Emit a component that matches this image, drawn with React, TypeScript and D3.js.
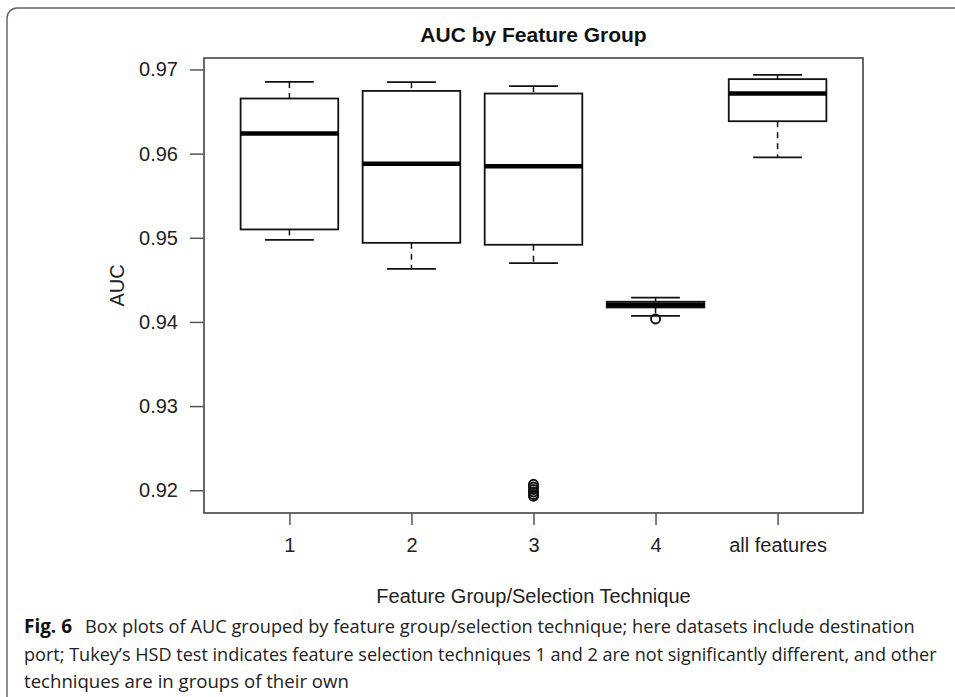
import { useEffect, useRef } from 'react';
import * as d3 from 'd3';

// values
const groups = ['1', '2', '3', '4', 'all features'];
const whiskerHigh = [0.96852, 0.96849, 0.96801, 0.94290, 0.96936];
const upperQuartile = [0.96655, 0.96745, 0.96714, 0.94240, 0.96885];
const medians = [0.96238, 0.95881, 0.95849, 0.94205, 0.96714];
const lowerQuartile = [0.95099, 0.94940, 0.94917, 0.94172, 0.96385];
const whiskerLow = [0.94976, 0.94631, 0.94698, 0.94071, 0.95956];
const outlierGroup = [3, 3, 3, 3, 3, 3, 4];
const outlierValues = [0.9207, 0.9204, 0.9201, 0.9198, 0.9195, 0.9193, 0.94036];
const yTicks = [0.92, 0.93, 0.94, 0.95, 0.96, 0.97];

const captionLines = [
  'Box plots of AUC grouped by feature group/selection technique; here datasets include destination',
  'port; Tukey\u2019s HSD test indicates feature selection techniques 1 and 2 are not significantly different, and other',
  'techniques are in groups of their own',
];

const W = 955;
const H = 697;

export default function App() {
  const ref = useRef<SVGSVGElement>(null);

  useEffect(() => {
    const svg = d3.select(ref.current);
    svg.selectAll('*').remove();

    const left = 204, right = 863, top = 58, bottom = 513;
    const font = '"Liberation Sans", Arial, sans-serif';

    // R style limits: data range plus 4%
    const all = [...whiskerHigh, ...whiskerLow, ...outlierValues];
    const lo = d3.min(all)!, hi = d3.max(all)!;
    const pad = (hi - lo) * 0.04;
    const y = d3.scaleLinear().domain([lo - pad, hi + pad]).range([bottom, top]);
    const x = d3.scaleLinear().domain([0.3, groups.length + 0.7]).range([left, right]);
    const unit = x(2) - x(1);
    const boxW = unit * 0.8;

    // outer figure frame
    svg.append('rect')
      .attr('x', 7).attr('y', 8)
      .attr('width', 1000).attr('height', 760)
      .attr('rx', 10)
      .attr('fill', 'none')
      .attr('stroke', '#666')
      .attr('stroke-width', 1.5);

    // title
    svg.append('text')
      .attr('x', (left + right) / 2).attr('y', 42)
      .attr('text-anchor', 'middle')
      .attr('font-family', font)
      .attr('font-weight', 'bold')
      .attr('font-size', 21)
      .attr('fill', '#111')
      .text('AUC by Feature Group');

    const g = svg.append('g');

    groups.forEach((name, i) => {
      const cx = x(i + 1);
      // whiskers (dashed)
      g.append('line')
        .attr('x1', cx).attr('x2', cx)
        .attr('y1', y(whiskerHigh[i])).attr('y2', y(upperQuartile[i]))
        .attr('stroke', '#111').attr('stroke-width', 1.5)
        .attr('stroke-dasharray', '6,5');
      g.append('line')
        .attr('x1', cx).attr('x2', cx)
        .attr('y1', y(lowerQuartile[i])).attr('y2', y(whiskerLow[i]))
        .attr('stroke', '#111').attr('stroke-width', 1.5)
        .attr('stroke-dasharray', '6,5');
      // staples
      [whiskerHigh[i], whiskerLow[i]].forEach(v => {
        g.append('line')
          .attr('x1', cx - boxW / 4).attr('x2', cx + boxW / 4)
          .attr('y1', y(v)).attr('y2', y(v))
          .attr('stroke', '#111').attr('stroke-width', 1.8);
      });
      // box
      g.append('rect')
        .attr('x', cx - boxW / 2)
        .attr('y', y(upperQuartile[i]))
        .attr('width', boxW)
        .attr('height', y(lowerQuartile[i]) - y(upperQuartile[i]))
        .attr('fill', 'white')
        .attr('stroke', '#111')
        .attr('stroke-width', 1.8);
      // median
      g.append('line')
        .attr('x1', cx - boxW / 2).attr('x2', cx + boxW / 2)
        .attr('y1', y(medians[i])).attr('y2', y(medians[i]))
        .attr('stroke', '#000').attr('stroke-width', 4.5);
    });

    // outliers
    g.selectAll('circle.out')
      .data(outlierValues)
      .join('circle')
      .attr('class', 'out')
      .attr('cx', (d, i) => x(outlierGroup[i]))
      .attr('cy', d => y(d))
      .attr('r', 4.5)
      .attr('fill', 'none')
      .attr('stroke', '#111')
      .attr('stroke-width', 2);

    // plot frame
    svg.append('rect')
      .attr('x', left).attr('y', top)
      .attr('width', right - left).attr('height', bottom - top)
      .attr('fill', 'none')
      .attr('stroke', '#444')
      .attr('stroke-width', 1.6);

    // y axis
    const yAxis = svg.append('g')
      .attr('transform', `translate(${left},0)`)
      .call(d3.axisLeft(y).tickValues(yTicks).tickFormat(d3.format('.2f')).tickSize(14).tickPadding(12));
    yAxis.select('.domain').remove();
    yAxis.selectAll('line').attr('stroke', '#555').attr('stroke-width', 1.5);
    yAxis.selectAll('text')
      .attr('font-family', font).attr('font-size', 20).attr('fill', '#222');

    // x axis
    const xAxis = svg.append('g')
      .attr('transform', `translate(0,${bottom})`)
      .call(d3.axisBottom(x).tickValues(groups.map((_, i) => i + 1))
        .tickFormat((d: any) => groups[d - 1]).tickSize(12).tickPadding(13));
    xAxis.select('.domain').remove();
    xAxis.selectAll('line').attr('stroke', '#555').attr('stroke-width', 1.5);
    xAxis.selectAll('text')
      .attr('font-family', font).attr('font-size', 20).attr('fill', '#222');

    // axis titles
    svg.append('text')
      .attr('x', (left + right) / 2).attr('y', 603)
      .attr('text-anchor', 'middle')
      .attr('font-family', font).attr('font-size', 20).attr('fill', '#222')
      .text('Feature Group/Selection Technique');
    svg.append('text')
      .attr('transform', `translate(124,${(top + bottom) / 2}) rotate(-90)`)
      .attr('text-anchor', 'middle')
      .attr('font-family', font).attr('font-size', 20).attr('fill', '#222')
      .text('AUC');

    // caption: condensed by squeezing each line to the width it has in the figure
    const capFont = '"Open Sans", "Noto Sans", sans-serif';
    const squeeze = (sel: any, x0: number, y0: number, x1: number) => {
      const natural = (sel.node() as SVGTextElement).getComputedTextLength();
      const s = natural > 0 ? (x1 - x0) / natural : 1;
      sel.attr('transform', `translate(${x0},${y0}) scale(${s},1)`);
    };
    const fig = svg.append('text')
      .attr('font-family', capFont).attr('font-weight', 'bold')
      .attr('font-size', 19).attr('fill', '#111')
      .text('Fig. 6');
    squeeze(fig, 24, 633, 72);
    const capX = [85, 24, 24];
    const capEnd = [915, 937, 349];
    const capY = [633, 661, 688];
    captionLines.forEach((line, i) => {
      const t = svg.append('text')
        .attr('font-family', capFont)
        .attr('font-size', 19).attr('fill', '#222')
        .text(line);
      squeeze(t, capX[i], capY[i], capEnd[i]);
    });
  }, []);

  return (
    <svg
      ref={ref}
      width={W}
      height={H}
      style={{ position: 'absolute', left: 0, top: 0, background: 'white' }}
    />
  );
}
